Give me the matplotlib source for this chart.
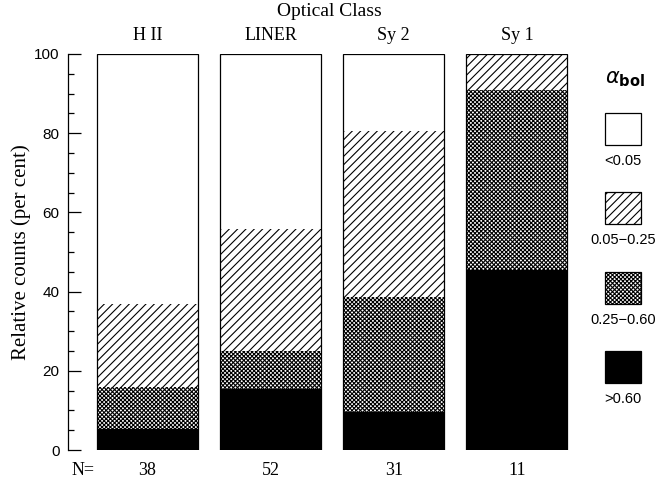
import numpy as np
import matplotlib.pyplot as plt
from matplotlib.patches import Rectangle

classes = ['H II', 'LINER', 'Sy 2', 'Sy 1']
n_total = [38, 52, 31, 11]
# counts per alpha_bol bin, bottom to top: >0.60, 0.25-0.60, 0.05-0.25, <0.05
cnt_high = [2, 8, 3, 5]
cnt_mid = [4, 5, 9, 5]
cnt_low = [8, 16, 13, 1]
cnt_none = [24, 23, 6, 0]
bin_labels = ['>0.60', '0.25\u22120.60', '0.05\u22120.25', '<0.05']

serif = ['Liberation Serif', 'DejaVu Serif']
sans = ['Liberation Sans', 'DejaVu Sans']

plt.rcParams['hatch.linewidth'] = 0.8

N = np.array(n_total, dtype=float)
layers = [np.array(c) / N * 100 for c in (cnt_high, cnt_mid, cnt_low, cnt_none)]
styles = [dict(color='black', hatch=None),
          dict(color='white', hatch='xxxxxxxx'),
          dict(color='white', hatch='////'),
          dict(color='white', hatch=None)]

fig = plt.figure(figsize=(6.57, 4.79), dpi=100)
ax = fig.add_axes([0.1035, 0.0605, 0.777, 0.827])
x = np.arange(len(classes))
bottom = np.zeros(len(classes))
for vals, st in zip(layers, styles):
    ax.bar(x, vals, 0.82, bottom=bottom, color=st['color'], hatch=st['hatch'],
           edgecolor='black', linewidth=0)
    bottom += vals
# outline of each bar
ax.bar(x, bottom, 0.82, fill=False, edgecolor='black', linewidth=0.9)

ax.set_xlim(-0.646, 3.5)
ax.set_ylim(0, 100)
for s in ['top', 'right', 'bottom']:
    ax.spines[s].set_visible(False)
ax.spines['left'].set_linewidth(0.9)
ax.set_xticks([])
ax.set_yticks(np.arange(0, 101, 20))
ax.set_yticks(np.arange(0, 101, 5), minor=True)
ax.tick_params(axis='y', which='major', direction='in', length=9, width=0.9, pad=6,
               labelsize=11)
ax.tick_params(axis='y', which='minor', direction='in', length=4, width=0.9)
for lab in ax.get_yticklabels():
    lab.set_family(sans)
ax.set_ylabel('Relative counts (per cent)', family=serif, fontsize=15)
ax.yaxis.set_label_coords(-0.072, 0.5)

for i, name in enumerate(classes):
    ax.text(i, 102.5, name, ha='center', va='bottom', family=serif, fontsize=13)
    ax.text(i, -3, str(n_total[i]), ha='center', va='top', family=serif, fontsize=13)
ax.text(-0.52, -3, 'N=', ha='center', va='top', family=serif, fontsize=13)
fig.text(0.502, 0.975, 'Optical Class', ha='center', va='center', family=serif, fontsize=14)

# legend column
fig.text(0.951, 0.835, r'$\alpha_{\mathbf{bol}}$', ha='center', va='center', fontsize=15)
box_w, box_h = 36 / 657, 32 / 479
legend_tops = [351, 272, 192, 113]
for (lab, st, top) in zip(bin_labels, styles, legend_tops):
    y0 = 1 - (top + 32) / 479
    fig.patches.append(Rectangle((605 / 657, y0), box_w, box_h, transform=fig.transFigure,
                                 facecolor=st['color'], hatch=st['hatch'],
                                 edgecolor='black', linewidth=0.9))
    fig.text(623 / 657, 1 - (top + 48) / 479, lab, ha='center', va='center',
             family=sans, fontsize=10.5)

fig.savefig('out.png', dpi=100)
